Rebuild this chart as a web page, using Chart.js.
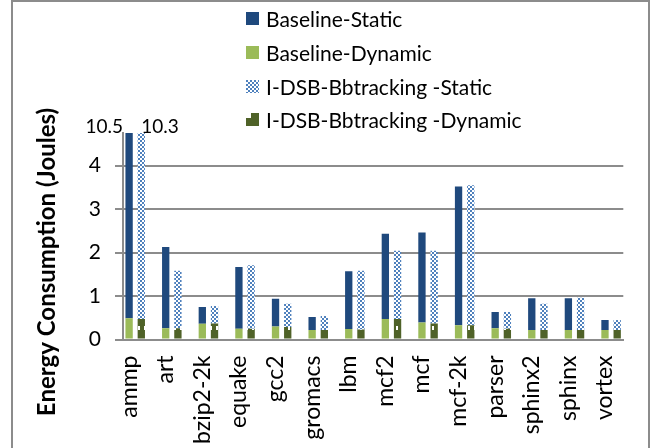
<!DOCTYPE html>
<html>
<head>
<meta charset="utf-8">
<script src="https://cdn.jsdelivr.net/npm/chart.js@4.4.1/dist/chart.umd.min.js"></script>
<style>
  html, body { margin: 0; padding: 0; background: #fff; }
  #wrap { position: relative; width: 661px; height: 448px; overflow: hidden; }
  #frame { position: absolute; left: 11px; top: 0; width: 639px; height: 470px; border: 2px solid #8c8c8c; box-sizing: border-box; }
  #chart { position: absolute; left: 0; top: 0; }
  #legend { position: absolute; left: 246px; top: 2px; font-family: Lato, "Open Sans", sans-serif; font-size: 21px; color: #000; }
  .row { position: relative; height: 33.8px; line-height: 33.8px; padding-left: 20px; white-space: nowrap; }
  .row canvas { position: absolute; left: 0; top: 10px; }
</style>
</head>
<body>
<div id="wrap">
  <div id="frame"></div>
  <canvas id="chart" width="661" height="448"></canvas>
  <div id="legend"></div>
</div>
<script>
// benchmarks and the values (Joules)
const categories = ["ammp", "art", "bzip2-2k", "equake", "gcc2", "gromacs", "lbm", "mcf2", "mcf", "mcf-2k", "parser", "sphinx2", "sphinx", "vortex"];
const baseStatic = [10.01, 1.87, 0.39, 1.42, 0.64, 0.30, 1.33, 1.96, 2.07, 3.19, 0.37, 0.73, 0.73, 0.23];
const baseDynamic = [0.49, 0.26, 0.36, 0.25, 0.30, 0.22, 0.24, 0.47, 0.39, 0.33, 0.26, 0.22, 0.22, 0.22];
const idsbStatic = [9.83, 1.32, 0.40, 1.46, 0.53, 0.32, 1.35, 1.57, 1.67, 3.22, 0.38, 0.60, 0.74, 0.23];
const idsbDynamic = [0.47, 0.26, 0.37, 0.25, 0.29, 0.22, 0.23, 0.47, 0.37, 0.33, 0.25, 0.22, 0.22, 0.22];
const yTicks = [0, 1, 2, 3, 4];
const yMax = 4.75;

const COLORS = {
  baseStatic: "#1F497D",
  baseDynamic: "#9BBB59",
  idsbStatic: "#4F81BD",
  idsbDynamic: "#4F6228",
  axis: "#8c8c8c",
};

// checkerboard blue/white, like the Excel pattern fill
function checkerPattern(ctx) {
  const c = document.createElement("canvas");
  c.width = 4; c.height = 4;
  const g = c.getContext("2d");
  g.fillStyle = "#fff"; g.fillRect(0, 0, 4, 4);
  g.fillStyle = COLORS.idsbStatic;
  g.fillRect(0, 0, 2, 2); g.fillRect(2, 2, 2, 2);
  g.fillRect(1, 0, 1, 1);
  return ctx.createPattern(c, "repeat");
}

// dark green with small white notches
function notchPattern(ctx) {
  const c = document.createElement("canvas");
  c.width = 6; c.height = 14;
  const g = c.getContext("2d");
  g.fillStyle = COLORS.idsbDynamic; g.fillRect(0, 0, 6, 14);
  g.fillStyle = "#fff"; g.fillRect(0, 4, 2, 4);
  return ctx.createPattern(c, "repeat");
}

// each benchmark takes three slots: baseline bar, I-DSB bar, gap
const nSlots = categories.length * 3 - 1;
const slotLabels = Array.from({ length: nSlots }, (_, i) => (i % 3 === 0 ? categories[i / 3] : ""));
function spread(values, offset) {
  const out = new Array(nSlots).fill(null);
  values.forEach((v, i) => { out[i * 3 + offset] = v; });
  return out;
}

const yTitle = {
  id: "yTitle",
  afterDraw(chart) {
    const ctx = chart.ctx;
    ctx.save();
    ctx.translate(47, 262);
    ctx.rotate(-Math.PI / 2);
    ctx.font = "bold 24px Lato";
    ctx.fillStyle = "#000";
    ctx.textAlign = "center";
    ctx.textBaseline = "middle";
    ctx.fillText("Energy Consumption (Joules)", 0, 0);
    ctx.restore();
  },
};

// totals of bars that run past the top of the axis
const clippedTotals = {
  id: "clippedTotals",
  afterDatasetsDraw(chart) {
    const ctx = chart.ctx;
    ctx.save();
    ctx.font = "19px Lato";
    ctx.fillStyle = "#000";
    ctx.textBaseline = "middle";
    categories.forEach((_, i) => {
      const tb = baseStatic[i] + baseDynamic[i];
      const ti = idsbStatic[i] + idsbDynamic[i];
      if (tb > yMax) {
        const bar = chart.getDatasetMeta(1).data[i * 3];
        ctx.textAlign = "right";
        ctx.fillText(tb.toFixed(1), bar.x - 6, chart.chartArea.top - 6);
      }
      if (ti > yMax) {
        const bar = chart.getDatasetMeta(3).data[i * 3 + 1];
        ctx.textAlign = "left";
        ctx.fillText(ti.toFixed(1), bar.x, chart.chartArea.top - 6);
      }
    });
    ctx.restore();
  },
};

function draw() {
  const ctx = document.getElementById("chart").getContext("2d");
  const checker = checkerPattern(ctx);
  const notch = notchPattern(ctx);

  new Chart(ctx, {
    type: "bar",
    data: {
      labels: slotLabels,
      datasets: [
        { label: "Baseline-Dynamic", data: spread(baseDynamic, 0), backgroundColor: COLORS.baseDynamic },
        { label: "Baseline-Static", data: spread(baseStatic, 0), backgroundColor: COLORS.baseStatic },
        { label: "I-DSB-Bbtracking -Dynamic", data: spread(idsbDynamic, 1), backgroundColor: notch },
        { label: "I-DSB-Bbtracking -Static", data: spread(idsbStatic, 1), backgroundColor: checker },
      ],
    },
    options: {
      responsive: false,
      animation: false,
      devicePixelRatio: 1,
      layout: { padding: { left: 0, top: 133, right: 17, bottom: 0 } },
      datasets: { bar: { categoryPercentage: 1, barPercentage: 0.6 } },
      plugins: { legend: { display: false }, tooltip: { enabled: false } },
      scales: {
        x: {
          stacked: true,
          grid: { display: false, drawTicks: false },
          border: { color: COLORS.axis, width: 2 },
          ticks: { autoSkip: false, minRotation: 90, maxRotation: 90, padding: 16, color: "#000", font: { family: "Lato", size: 23 } },
          afterFit: (s) => { s.height = 108.5; },
        },
        y: {
          stacked: true,
          min: 0,
          max: yMax,
          afterBuildTicks: (s) => { s.ticks = yTicks.map((v) => ({ value: v })); },
          ticks: { padding: 14, color: "#000", font: { family: "Lato", size: 21 } },
          grid: { color: COLORS.axis, lineWidth: 2, tickLength: 8 },
          border: { color: COLORS.axis, width: 2 },
          afterFit: (s) => { s.width = 123; },
        },
      },
    },
    plugins: [yTitle, clippedTotals],
  });

  // legend as real text, swatches painted with the same fills
  const legendItems = [
    { text: "Baseline-Static", fill: COLORS.baseStatic },
    { text: "Baseline-Dynamic", fill: COLORS.baseDynamic },
    { text: "I-DSB-Bbtracking -Static", fill: "checker" },
    { text: "I-DSB-Bbtracking -Dynamic", fill: "notch" },
  ];
  const legend = document.getElementById("legend");
  legendItems.forEach((it) => {
    const row = document.createElement("div");
    row.className = "row";
    const sw = document.createElement("canvas");
    sw.width = 13; sw.height = 13;
    const g = sw.getContext("2d");
    if (it.fill === "checker") {
      g.fillStyle = checkerPattern(g);
      g.fillRect(0, 0, 13, 13);
    } else if (it.fill === "notch") {
      g.fillStyle = COLORS.idsbDynamic; g.fillRect(0, 0, 13, 13);
      g.fillStyle = "#fff"; g.fillRect(0, 0, 5, 5);
    } else {
      g.fillStyle = it.fill;
      g.fillRect(0, 0, 13, 13);
    }
    row.appendChild(sw);
    row.appendChild(document.createTextNode(it.text));
    legend.appendChild(row);
  });
}

Promise.all([document.fonts.load("20px Lato"), document.fonts.load("bold 20px Lato")])
  .catch(() => {})
  .then(draw);
</script>
</body>
</html>
